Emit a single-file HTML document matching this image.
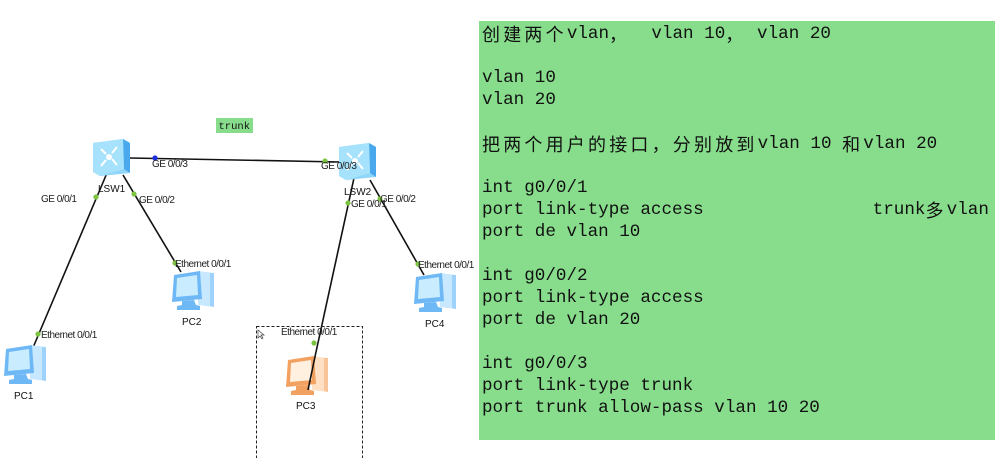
<!DOCTYPE html>
<html><head><meta charset="utf-8"><style>
body{margin:0;width:1001px;height:458px;background:#fff;overflow:hidden;position:relative;font-family:"Liberation Sans",sans-serif}
#code{position:absolute;left:479px;top:21px;width:516px;height:419px;background:#88dd8c}
#code .p{position:absolute;left:3px;top:2px;font-family:"Liberation Mono","Noto Sans CJK SC",monospace;font-size:17.6px;color:#111}
#code .p div{height:22px;line-height:22px;overflow:visible;white-space:pre}
.c{font-family:"Noto Sans CJK SC",sans-serif;font-size:18px;letter-spacing:3.2px;line-height:22px;display:inline-block;vertical-align:top;height:22px}
svg{position:absolute;left:0;top:0}
</style></head><body>
<svg width="480" height="458" viewBox="0 0 480 458" font-family="Liberation Sans, sans-serif">
<defs>
<g id="pcb">
<path d="M28 2 L44 4 L44 38 L28 36 Z" fill="#c8e8ff"/>
<path d="M40 4 L44 4 L44 38 L40 37Z" fill="#9ed2fb"/>
<path d="M4 6 L30 2 L32 30 L2 33 Z" fill="#6db8f5"/>
<path d="M7 9 L27 6 L28 26 L6 28 Z" fill="#c9ecff"/>
<path d="M12 32 L24 31 L26 36 L30 37 L30 41 L7 41 L7 37 L12 36Z" fill="#6db8f5"/>
</g>
<g id="pco">
<path d="M28 2 L44 4 L44 38 L28 36 Z" fill="#ffe0c4"/>
<path d="M40 4 L44 4 L44 38 L40 37Z" fill="#f8c49a"/>
<path d="M4 6 L30 2 L32 30 L2 33 Z" fill="#f2a160"/>
<path d="M7 9 L27 6 L28 26 L6 28 Z" fill="#fff0e0"/>
<path d="M12 32 L24 31 L26 36 L30 37 L30 41 L7 41 L7 37 L12 36Z" fill="#f2a160"/>
</g>
<g id="sw">
<path d="M0 4 L30 0 L37 4 L37 34 L7 37 L0 33Z" fill="#8fd6f8"/>
<path d="M30 0 L37 4 L37 34 L31 30Z" fill="#4aa8ec"/>
<path d="M0 4 L30 0 L31 30 L7 37 L0 33Z" fill="#a6e2fb"/>
<g stroke="#fff" stroke-width="2" fill="none"><path d="M8 10 L13 15 M24 8 L19 14 M8 27 L13 21 M24 26 L19 20"/></g>
<circle cx="16" cy="18" r="3" fill="#fff"/>
</g>
</defs>
<rect x="216" y="118" width="37" height="15" fill="#88dd8c"/>
<text x="218.5" y="129" font-family="Liberation Mono, monospace" font-size="10.5" fill="#111">trunk</text>
<g stroke="#111" stroke-width="1.6">
<line x1="130" y1="158" x2="340" y2="162"/>
<line x1="107" y1="173" x2="32" y2="350"/>
<line x1="123" y1="175" x2="181" y2="272"/>
<line x1="354" y1="178" x2="316" y2="352"/>
<line x1="370" y1="180" x2="424" y2="275"/>
</g>
<use href="#sw" x="93" y="139"/>
<use href="#sw" x="339" y="143"/>
<use href="#pcb" x="2" y="343"/>
<use href="#pcb" x="170" y="269"/>
<use href="#pcb" x="412" y="271"/>
<use href="#pco" x="284" y="354"/>
<line x1="316" y1="352" x2="308" y2="390" stroke="#111" stroke-width="1.6"/>
<g fill="#7cc342">
<circle cx="96" cy="197" r="2.6"/><circle cx="134" cy="194" r="2.6"/>
<circle cx="38" cy="334" r="2.6"/><circle cx="175" cy="263" r="2.6"/>
<circle cx="325" cy="161" r="2.6"/><circle cx="348" cy="203" r="2.6"/>
<circle cx="380" cy="199" r="2.6"/><circle cx="418" cy="264" r="2.6"/>
<circle cx="314" cy="343" r="2.6"/>
</g>
<circle cx="155" cy="158" r="2.6" fill="#1a2ee0"/>
<g font-size="10" fill="#222" letter-spacing="-0.5">
<text x="152" y="167">GE 0/0/3</text>
<text x="321" y="169">GE 0/0/3</text>
<text x="41" y="202">GE 0/0/1</text>
<text x="139" y="203">GE 0/0/2</text>
<text x="351" y="207">GE 0/0/1</text>
<text x="380" y="202">GE 0/0/2</text>
<text x="41" y="338">Ethernet 0/0/1</text>
<text x="175" y="267">Ethernet 0/0/1</text>
<text x="418" y="268">Ethernet 0/0/1</text>
<text x="281" y="335">Ethernet 0/0/1</text>
</g>
<g font-size="10" fill="#111">
<text x="98" y="192">LSW1</text>
<text x="344" y="195">LSW2</text>
<text x="14" y="399">PC1</text>
<text x="182" y="325">PC2</text>
<text x="425" y="327">PC4</text>
<text x="296" y="409">PC3</text>
</g>
<rect x="256.5" y="326.5" width="106" height="135" fill="none" stroke="#222" stroke-width="1" stroke-dasharray="3,2"/>
<path d="M258 330 L258 338 L260 336 L262 339 L263 338 L261 335 L264 335Z" fill="#fff" stroke="#444" stroke-width="0.7"/>
</svg>
<div id="code"><div class="p"><div><span class="c">创建两个</span>vlan<span class="c">，</span>  vlan 10<span class="c">，</span> vlan 20</div><div></div><div>vlan 10</div><div>vlan 20</div><div></div><div><span class="c">把两个用户的接口，分别放到</span>vlan 10 <span class="c">和</span>vlan 20</div><div></div><div>int g0/0/1</div><div>port link-type access                trunk<span class="c">多</span>vlan</div><div>port de vlan 10</div><div></div><div>int g0/0/2</div><div>port link-type access</div><div>port de vlan 20</div><div></div><div>int g0/0/3</div><div>port link-type trunk</div><div>port trunk allow-pass vlan 10 20</div></div></div>
</body></html>
